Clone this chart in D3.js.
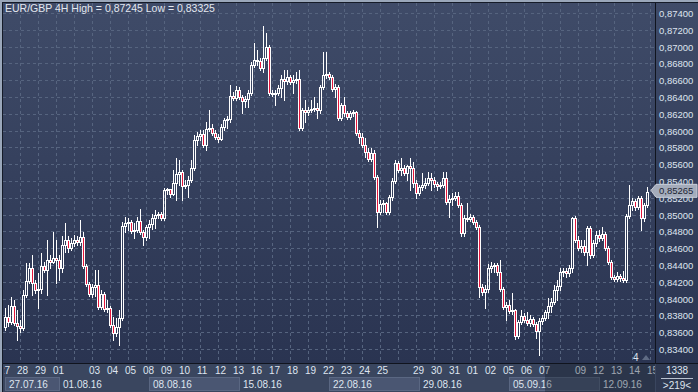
<!DOCTYPE html>
<html><head><meta charset="utf-8">
<script src="https://cdn.jsdelivr.net/npm/d3@7"></script>
<style>
html,body{margin:0;padding:0;background:#2a3348;overflow:hidden}
svg{display:block}
text{font-family:"Liberation Sans",Arial,sans-serif}
</style>
</head><body>
<svg id="c" width="698" height="392"></svg>
<script>
// ---------- DATA ----------
const title = "EUR/GBP 4H High = 0,87245 Low = 0,83325";
const firstBar = 1; // first visible 4H bar (index within the day grid)
const opens = [0.8366,0.8378,0.8372,0.8391,0.8371,0.8367,0.8365,0.8404,0.8421,0.8436,0.8419,0.8410,0.8412,0.8439,0.8434,0.8446,0.8444,0.8448,0.8446,0.8436,
0.8464,0.8470,0.8460,0.8466,0.8470,0.8467,0.8473,0.8439,0.8417,0.8405,0.8414,0.8416,0.8390,0.8405,0.8388,0.8389,0.8369,0.8359,0.8366,0.8377,
0.8486,0.8490,0.8491,0.8480,0.8482,0.8492,0.8479,0.8473,0.8485,0.8489,0.8496,0.8500,0.8501,0.8496,0.8529,0.8530,0.8524,0.8538,0.8548,0.8551,
0.8534,0.8535,0.8541,0.8555,0.8589,0.8594,0.8596,0.8583,0.8602,0.8603,0.8597,0.8592,0.8590,0.8604,0.8613,0.8614,0.8641,0.8639,0.8648,0.8640,
0.8635,0.8638,0.8645,0.8678,0.8684,0.8683,0.8674,0.8686,0.8700,0.8645,0.8644,0.8645,0.8651,0.8661,0.8659,0.8664,0.8658,0.8660,0.8661,0.8603,
0.8624,0.8622,0.8624,0.8626,0.8627,0.8624,0.8652,0.8666,0.8667,0.8664,0.8649,0.8652,0.8615,0.8630,0.8621,0.8616,0.8621,0.8622,0.8597,0.8592,
0.8583,0.8574,0.8566,0.8573,0.8545,0.8503,0.8513,0.8514,0.8503,0.8521,0.8540,0.8561,0.8553,0.8555,0.8550,0.8558,0.8556,0.8538,0.8526,0.8533,
0.8535,0.8538,0.8544,0.8541,0.8536,0.8534,0.8535,0.8544,0.8515,0.8519,0.8520,0.8522,0.8511,0.8478,0.8496,0.8495,0.8497,0.8491,0.8485,0.8414,
0.8408,0.8411,0.8436,0.8439,0.8440,0.8432,0.8411,0.8390,0.8392,0.8385,0.8386,0.8355,0.8372,0.8379,0.8374,0.8371,0.8376,0.8370,0.8361,0.8373,
0.8377,0.8384,0.8391,0.8396,0.8410,0.8415,0.8432,0.8433,0.8431,0.8436,0.8496,0.8470,0.8460,0.8463,0.8455,0.8484,0.8452,0.8466,0.8476,0.8472,
0.8477,0.8460,0.8444,0.8426,0.8423,0.8427,0.8424,0.8422,0.8498,0.8511,0.8516,0.8509,0.8520,0.8496,0.8511];
const highs = [0.8389,0.8392,0.8402,0.8398,0.8386,0.8374,0.8410,0.8442,0.8442,0.8452,0.8422,0.8430,0.8454,0.8444,0.8470,0.8452,0.8479,0.8470,0.8452,0.8474,
0.8490,0.8474,0.8472,0.8476,0.8474,0.8494,0.8479,0.8441,0.8420,0.8417,0.8434,0.8434,0.8410,0.8408,0.8398,0.8391,0.8378,0.8377,0.8386,0.8491,
0.8497,0.8496,0.8494,0.8490,0.8497,0.8507,0.8482,0.8488,0.8494,0.8501,0.8505,0.8503,0.8503,0.8532,0.8532,0.8531,0.8553,0.8567,0.8565,0.8553,
0.8541,0.8546,0.8565,0.8595,0.8598,0.8601,0.8601,0.8610,0.8624,0.8608,0.8601,0.8596,0.8608,0.8615,0.8617,0.8654,0.8646,0.8653,0.8652,0.8642,
0.8641,0.8648,0.8682,0.8704,0.8696,0.8686,0.87245,0.8716,0.8702,0.8648,0.8648,0.8654,0.8666,0.8672,0.8672,0.8666,0.8666,0.8670,0.8672,0.8627,
0.8636,0.8628,0.8636,0.8640,0.8633,0.8654,0.8694,0.8694,0.8670,0.8666,0.8655,0.8654,0.8633,0.8640,0.8623,0.8623,0.8624,0.8623,0.8601,0.8597,
0.8591,0.8579,0.8579,0.8577,0.8547,0.8517,0.8517,0.8515,0.8523,0.8544,0.8565,0.8564,0.8567,0.8559,0.8559,0.8567,0.8563,0.8541,0.8535,0.8550,
0.8544,0.8551,0.8550,0.8545,0.8539,0.8539,0.8551,0.8551,0.8523,0.8526,0.8527,0.8527,0.8514,0.8500,0.8514,0.8501,0.8500,0.8494,0.8488,0.8417,
0.8416,0.8441,0.8444,0.8442,0.8442,0.8446,0.8414,0.8396,0.8398,0.8407,0.8388,0.8374,0.8386,0.8383,0.8384,0.8380,0.8378,0.8372,0.8377,0.8380,
0.8386,0.8401,0.8401,0.8416,0.8422,0.8436,0.8436,0.8436,0.8440,0.8497,0.8498,0.8474,0.8470,0.8470,0.8486,0.8486,0.8470,0.8480,0.8482,0.8485,
0.8479,0.8463,0.8446,0.8428,0.8432,0.8429,0.8433,0.8501,0.8535,0.8520,0.8519,0.8522,0.8522,0.8514,0.8533];
const lows = [0.8363,0.8367,0.8370,0.8369,0.8351,0.8360,0.8363,0.8402,0.8419,0.8404,0.8407,0.8389,0.8407,0.8432,0.8404,0.8436,0.8442,0.8419,0.8422,0.8432,
0.8455,0.8455,0.8458,0.8463,0.8464,0.8464,0.8436,0.8415,0.8403,0.8402,0.8403,0.8388,0.8388,0.8385,0.8384,0.8366,0.8351,0.8355,0.8345,0.8374,
0.8479,0.8482,0.8478,0.8472,0.8479,0.8477,0.8464,0.8470,0.8472,0.8483,0.8484,0.8496,0.8494,0.8494,0.8524,0.8521,0.8523,0.8517,0.8535,0.8517,
0.8532,0.8521,0.8539,0.8553,0.8583,0.8589,0.8580,0.8577,0.8599,0.8595,0.8590,0.8586,0.8589,0.8601,0.8603,0.8610,0.8636,0.8636,0.8638,0.8621,
0.8628,0.8628,0.8642,0.8676,0.8678,0.8672,0.8670,0.8684,0.8642,0.8641,0.8630,0.8642,0.8640,0.8636,0.8655,0.8655,0.8645,0.8657,0.8601,0.8601,
0.8610,0.8619,0.8622,0.8623,0.8615,0.8621,0.8649,0.8663,0.8661,0.8647,0.8640,0.8613,0.8613,0.8617,0.8614,0.8614,0.8617,0.8595,0.8585,0.8580,
0.8569,0.8564,0.8564,0.8542,0.8485,0.8501,0.8503,0.8501,0.8501,0.8517,0.8538,0.8551,0.8547,0.8547,0.8541,0.8529,0.8533,0.8520,0.8523,0.8529,
0.8532,0.8535,0.8529,0.8533,0.8529,0.8532,0.8533,0.8513,0.8497,0.8511,0.8517,0.8509,0.8474,0.8474,0.8492,0.8492,0.8489,0.8483,0.8402,0.8404,
0.8389,0.8408,0.8432,0.8432,0.8428,0.8409,0.8388,0.8374,0.8383,0.8382,0.8352,0.8353,0.8370,0.8372,0.8369,0.8367,0.8367,0.8353,0.83325,0.8370,
0.8374,0.8377,0.8384,0.8394,0.8398,0.8410,0.8427,0.8426,0.8427,0.8432,0.8467,0.8458,0.8455,0.8452,0.8440,0.8448,0.8450,0.8463,0.8469,0.8470,
0.8458,0.8441,0.8423,0.8421,0.8421,0.8421,0.8420,0.8420,0.8496,0.8505,0.8505,0.8507,0.8482,0.8492,0.8509];
const closes = [0.8378,0.8372,0.8391,0.8371,0.8367,0.8365,0.8404,0.8421,0.8436,0.8419,0.8410,0.8412,0.8439,0.8434,0.8446,0.8444,0.8448,0.8446,0.8436,0.8464,
0.8470,0.8460,0.8466,0.8470,0.8467,0.8473,0.8439,0.8417,0.8405,0.8414,0.8416,0.8390,0.8405,0.8388,0.8389,0.8369,0.8359,0.8366,0.8377,0.8486,
0.8490,0.8491,0.8480,0.8482,0.8492,0.8479,0.8473,0.8485,0.8489,0.8496,0.8500,0.8501,0.8496,0.8529,0.8530,0.8524,0.8538,0.8548,0.8551,0.8534,
0.8535,0.8541,0.8555,0.8589,0.8594,0.8596,0.8583,0.8602,0.8603,0.8597,0.8592,0.8590,0.8604,0.8613,0.8614,0.8641,0.8639,0.8648,0.8640,0.8635,
0.8638,0.8645,0.8678,0.8684,0.8683,0.8674,0.8686,0.8700,0.8645,0.8644,0.8645,0.8651,0.8661,0.8659,0.8664,0.8658,0.8660,0.8661,0.8603,0.8624,
0.8622,0.8624,0.8626,0.8627,0.8624,0.8652,0.8666,0.8667,0.8664,0.8649,0.8652,0.8615,0.8630,0.8621,0.8616,0.8621,0.8622,0.8597,0.8592,0.8583,
0.8574,0.8566,0.8573,0.8545,0.8503,0.8513,0.8514,0.8503,0.8521,0.8540,0.8561,0.8553,0.8555,0.8550,0.8558,0.8556,0.8538,0.8526,0.8533,0.8535,
0.8538,0.8544,0.8541,0.8536,0.8534,0.8535,0.8544,0.8515,0.8519,0.8520,0.8522,0.8511,0.8478,0.8496,0.8495,0.8497,0.8491,0.8485,0.8414,0.8408,
0.8411,0.8436,0.8439,0.8440,0.8432,0.8411,0.8390,0.8392,0.8385,0.8386,0.8355,0.8372,0.8379,0.8374,0.8371,0.8376,0.8370,0.8361,0.8373,0.8377,
0.8384,0.8391,0.8396,0.8410,0.8415,0.8432,0.8433,0.8431,0.8436,0.8496,0.8470,0.8460,0.8463,0.8455,0.8484,0.8452,0.8466,0.8476,0.8472,0.8477,
0.8460,0.8444,0.8426,0.8423,0.8427,0.8424,0.8422,0.8498,0.8511,0.8516,0.8509,0.8520,0.8496,0.8511,0.85265];
const priceTicks = [0.834,0.836,0.838,0.840,0.842,0.844,0.846,0.848,0.850,0.852,0.854,0.856,0.858,0.860,0.862,0.864,0.866,0.868,0.870,0.872,0.874];
const dayLabels = ["27","28","29","01","","03","04","05","08","09","10","11","12","13","16","17","18","19","22","23","24","25","","29","30","31","01","02","05","06","07","","09","12","13","14","15"];
const weekLabels = ["27.07.16","01.08.16","08.08.16","15.08.16","22.08.16","29.08.16","05.09.16","12.09.16"];
const weekStartDay = [0,3,8,13,18,23,28,33];
const barsPerDay = 6;
const lastPrice = 0.85265;
const barsInfo = "1338", barsShown = ">219<", markerText = "4";

// ---------- LAYOUT ----------
const W = 698, H = 392;
const P = {left: 3, right: 655, top: 3, bottom: 363};
const svg = d3.select("#c");
const defs = svg.append("defs");
const g1 = defs.append("linearGradient").attr("id","bg").attr("x1",0).attr("y1",0).attr("x2",0).attr("y2",1);
g1.append("stop").attr("offset","0%").attr("stop-color","#3f4b68");
g1.append("stop").attr("offset","100%").attr("stop-color","#2a3451");
defs.append("clipPath").attr("id","clip").append("rect")
  .attr("x",P.left).attr("y",P.top).attr("width",P.right-P.left).attr("height",P.bottom-P.top);
defs.append("clipPath").attr("id","clipAxis").append("rect")
  .attr("x",P.left+1).attr("y",P.bottom).attr("width",P.right-P.left-1).attr("height",H-P.bottom);

// frame
svg.append("rect").attr("x",0).attr("y",0).attr("width",W).attr("height",H).attr("fill","#9aa7ba");
svg.append("rect").attr("x",2).attr("y",2).attr("width",W-2).attr("height",H-2).attr("fill","#151b28");
svg.append("rect").attr("x",P.left).attr("y",P.top).attr("width",W-P.left).attr("height",P.bottom-P.top).attr("fill","url(#bg)");

const bars = opens.map((o,i)=>({i:i+firstBar,o,h:highs[i],l:lows[i],c:closes[i]}));
const nSlots = dayLabels.length*barsPerDay;
const x = d3.scaleLinear().domain([0,nSlots]).range([2.5, 2.5+nSlots*3]);
const y = d3.scaleLinear().domain([priceTicks[0], priceTicks[priceTicks.length-1]]).range([349,13]);

const grid = svg.append("g").attr("clip-path","url(#clip)");
const gridColor = "#56647f";
priceTicks.forEach(t=>{
  const yy = Math.round(y(t))+0.5;
  grid.append("line").attr("x1",P.left).attr("x2",P.right).attr("y1",yy).attr("y2",yy)
    .attr("stroke",gridColor).attr("stroke-dasharray","3,3");
});
dayLabels.forEach((d,k)=>{
  const xx = Math.floor(x(k*barsPerDay))+0.5;
  grid.append("line").attr("x1",xx).attr("x2",xx).attr("y1",P.top).attr("y2",P.bottom)
    .attr("stroke",gridColor).attr("stroke-dasharray","3,3");
});

// candles
const cg = svg.append("g").attr("clip-path","url(#clip)");
const red = "#e4163c";
bars.forEach(b=>{
  const cx = Math.floor(x(b.i))+0.5;
  const top = Math.round(y(Math.max(b.o,b.c)));
  const bot = Math.round(y(Math.min(b.o,b.c)));
  const yh = Math.round(y(b.h)), yl = Math.round(y(b.l));
  if (yh < top) cg.append("line").attr("x1",cx).attr("x2",cx).attr("y1",yh).attr("y2",top).attr("stroke","#fff");
  if (yl > bot) cg.append("line").attr("x1",cx).attr("x2",cx).attr("y1",bot+1).attr("y2",yl+1).attr("stroke","#fff");
  if (bot - top < 1) {
    cg.append("line").attr("x1",cx-1.5).attr("x2",cx+1.5).attr("y1",top+0.5).attr("y2",top+0.5).attr("stroke","#fff");
  } else {
    cg.append("rect").attr("x",cx-1).attr("y",top+0.5).attr("width",2).attr("height",bot-top)
      .attr("fill", b.c < b.o ? red : "none").attr("stroke","#fff");
  }
});

// title
svg.append("text").attr("x",5).attr("y",12).attr("font-size",10.5).attr("fill","#e3e8f0").text(title);

// price axis separator
svg.append("line").attr("x1",655.5).attr("x2",655.5).attr("y1",P.top).attr("y2",H).attr("stroke","#10141e");
priceTicks.forEach(t=>{
  svg.append("text").attr("x",659).attr("y",Math.round(y(t))+3.5).attr("font-size",9.5).attr("fill","#dfe5ef")
    .text(d3.format(".5f")(t).replace(".",","));
});
// last price marker
const ly = y(lastPrice) - 2;
svg.append("path").attr("d",`M651,${ly} L656,${ly-6} L697,${ly-6} L697,${ly+7} L656,${ly+7} Z`)
  .attr("fill","#a4acbb").attr("stroke","#c9cfda");
svg.append("text").attr("x",659).attr("y",ly+4).attr("font-size",9.5).attr("fill","#1c2433")
  .text(d3.format(".5f")(lastPrice).replace(".",","));

// bottom axis strip
svg.append("rect").attr("x",P.left).attr("y",364).attr("width",W-P.left).attr("height",H-364).attr("fill","#3a465f");
svg.append("line").attr("x1",P.left).attr("x2",W).attr("y1",363.5).attr("y2",363.5).attr("stroke","#10141e");
const axisG = svg.append("g").attr("clip-path","url(#clipAxis)");
weekLabels.forEach((w,j)=>{
  const x0 = Math.floor(x(weekStartDay[j]*barsPerDay)) + 3;
  const x1 = j+1 < weekLabels.length ? Math.floor(x(weekStartDay[j+1]*barsPerDay)) + 3 : P.right;
  if (j % 2 === 0) {
    axisG.append("rect").attr("x",x0+0.5).attr("y",377.5).attr("width",x1-x0).attr("height",13)
      .attr("fill","#4a5672").attr("stroke","#5a6782");
  }
  axisG.append("text").attr("x",x0+4).attr("y",388).attr("font-size",10).attr("fill","#dfe5ef").text(w);
});
dayLabels.forEach((d,k)=>{
  if (!d) return;
  axisG.append("text").attr("x",Math.floor(x(k*barsPerDay))-3).attr("y",374).attr("font-size",10)
    .attr("fill","#dfe5ef").text(d);
});
// dim overlay on the right end of the time strip
svg.append("rect").attr("x",545).attr("y",364).attr("width",P.right-545).attr("height",H-364)
  .attr("fill","#0a0f1c").attr("opacity",0.3);
// right bottom info box
svg.append("rect").attr("x",656).attr("y",364).attr("width",W-656).attr("height",H-364).attr("fill","#2e3850");
svg.append("text").attr("x",677).attr("y",374).attr("text-anchor","middle").attr("font-size",10).attr("fill","#dfe5ef").text(barsInfo);
svg.append("line").attr("x1",661).attr("x2",693).attr("y1",378.5).attr("y2",378.5).attr("stroke","#b8c1cf");
svg.append("text").attr("x",677).attr("y",389).attr("text-anchor","middle").attr("font-size",10).attr("fill","#dfe5ef").text(barsShown);
// marker at the lower right of the plot
svg.append("text").attr("x",633).attr("y",361).attr("font-size",10).attr("fill","#dfe5ef").text(markerText);
svg.append("path").attr("d","M642,360 L650,360 L646,355 Z").attr("fill","#5f6b84");
</script>
</body></html>
